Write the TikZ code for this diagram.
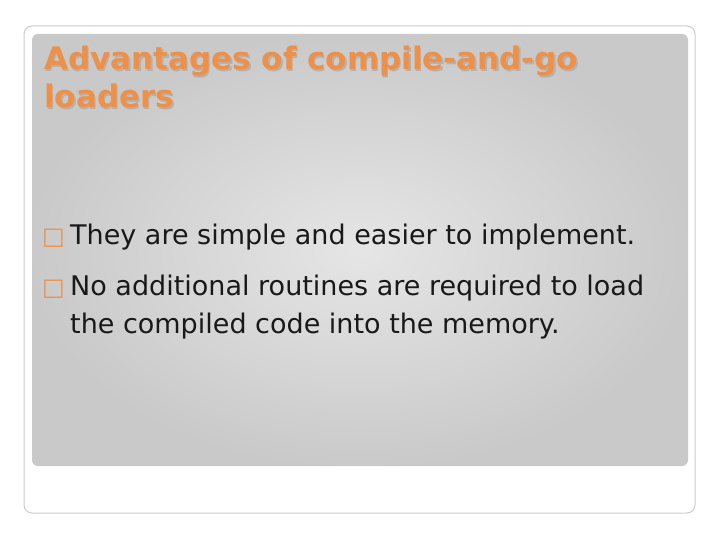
\documentclass[tikz,border=0pt]{standalone}
\usepackage{fontspec}
\setmainfont{DejaVu Sans}
\definecolor{ttl}{HTML}{EE9048}
\begin{document}
\begin{tikzpicture}[x=1pt,y=-1pt,
  body/.style={anchor=base west,inner sep=0pt,font=\fontsize{27}{30}\selectfont,text=black!90},
  bul/.style={anchor=base west,inner sep=0pt,font=\fontsize{24}{26}\selectfont,text=ttl},
  ttl/.style={anchor=base west,inner sep=0pt,font=\bfseries\fontsize{31}{36}\selectfont}]
\useasboundingbox (0,0) rectangle (720,540);
\fill[white] (0,0) rectangle (720,540);
\draw[gray!40,line width=1pt,rounded corners=8] (24,26) rectangle (695,513);
\shade[rounded corners=6,inner color=gray!20,outer color=gray!42] (32,34) rectangle (688,466);
\node[ttl,text=gray!60] at (45.5,71.5) {Advantages of compile-and-go};
\node[ttl,text=gray!60] at (45.5,109.5) {loaders};
\node[ttl,text=ttl] (t1) at (44,70) {Advantages of compile-and-go};
\node[ttl,text=ttl] (t2) at (44,108) {loaders};
\node[bul] (m1) at (42,244) {□};
\node[body] (b1) at (70,244) {They are simple and easier to implement.};
\node[bul] (m2) at (42,295) {□};
\node[body] (b2) at (70,295) {No additional routines are required to load};
\node[body] (b3) at (70,333) {the compiled code into the memory.};
\end{tikzpicture}
\end{document}
